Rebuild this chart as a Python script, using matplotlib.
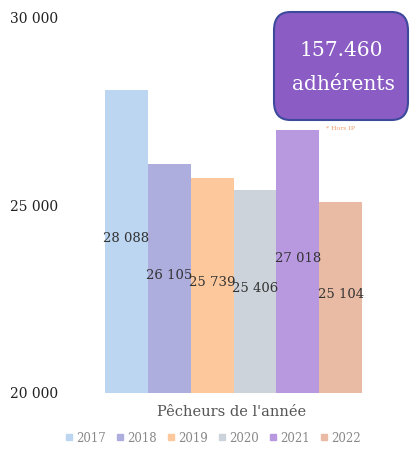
import matplotlib.pyplot as plt
from matplotlib.patches import FancyBboxPatch

# data
years = ["2017", "2018", "2019", "2020", "2021", "2022"]
pecheurs = [28088, 26105, 25739, 25406, 27018, 25104]
labels = ["28 088", "26 105", "25 739", "25 406", "27 018", "25 104"]
colors = ["#bcd6f2", "#adaede", "#fdc99c", "#ccd3da", "#b899e0", "#e9bba4"]
yticks = [20000, 25000, 30000]
ytick_labels = ["20 000", "25 000", "30 000"]

plt.rcParams["font.family"] = ["DejaVu Serif"]

fig = plt.figure(figsize=(4.11, 4.59), dpi=100)
ax = fig.add_axes([105 / 411, 66 / 459, 257 / 411, 375 / 459])

x = list(range(len(years)))
bars = ax.bar(x, pecheurs, width=1.0, color=colors, label=years)
for xi, v, lab in zip(x, pecheurs, labels):
    ax.text(xi, (20000 + v) / 2 + 80, lab, ha="center", va="center",
            fontsize=9.5, color="#333333")

ax.set_xlim(-0.5, 5.5)
ax.set_ylim(20000, 30000)
ax.set_yticks(yticks)
ax.set_yticklabels(ytick_labels, fontsize=10, color="#222222")
ax.set_xticks([])
ax.tick_params(axis="y", length=0, pad=34)
for s in ax.spines.values():
    s.set_visible(False)

fig.text(232 / 411, 1 - 412 / 459, "Pêcheurs de l'année", ha="center",
         va="center", fontsize=10.5, color="#555555")

handles = [plt.Line2D([], [], marker="s", linestyle="", markersize=4,
                      color=c) for c in colors]
fig.legend(handles, years, loc="center", bbox_to_anchor=(213 / 411, 1 - 438 / 459),
           ncol=6, frameon=False, fontsize=8.5, handlelength=0.6,
           handletextpad=0.3, columnspacing=0.9, labelcolor="#888888")

# highlighted total
box = FancyBboxPatch((274 / 411, 1 - 120 / 459), 134 / 411, 108 / 459,
                     boxstyle="round,pad=0,rounding_size=0.04",
                     transform=fig.transFigure, facecolor="#8a5cc4",
                     edgecolor="#3d4a9c", linewidth=1.5)
fig.patches.append(box)
fig.text(341 / 411, 1 - 50 / 459, "157.460", ha="center", va="center",
         fontsize=14.5, color="white")
fig.text(343 / 411, 1 - 84 / 459, "adhérents", ha="center", va="center",
         fontsize=14.5, color="white")
fig.text(340 / 411, 1 - 128 / 459, "* Hors IP", ha="center", va="center",
         fontsize=4.5, color="#f0a070")

fig.savefig("out.png", dpi=100)
